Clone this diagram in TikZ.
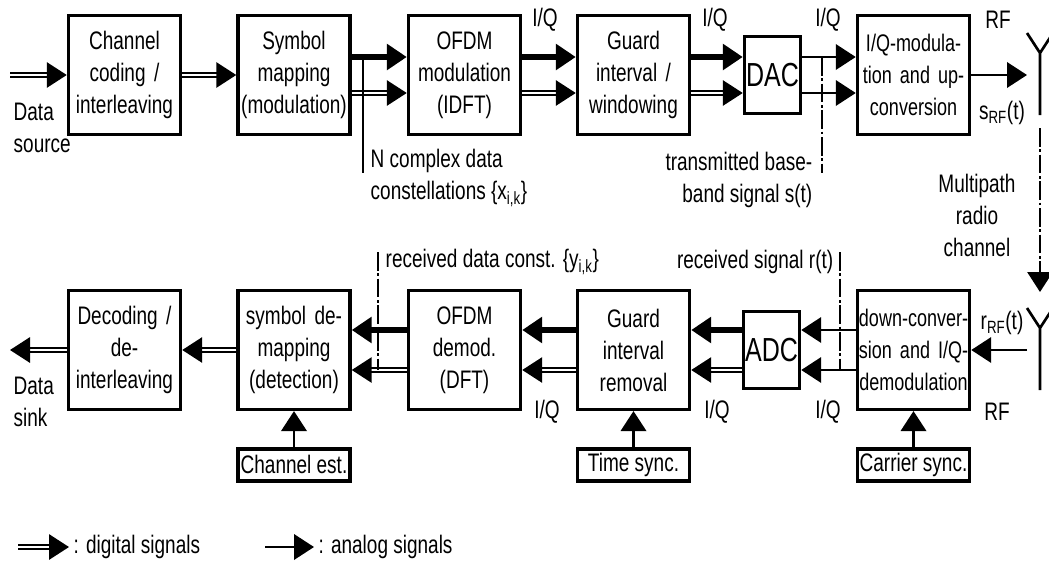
\documentclass[tikz,border=0pt]{standalone}
\usepackage{fontspec}
\setmainfont{Liberation Sans}[FakeStretch=0.75]
\usetikzlibrary{arrows.meta,positioning,calc}

\begin{document}
\begin{tikzpicture}[
  x=0.75pt, y=-0.75pt,
  font=\fontsize{19}{24}\selectfont,
  block/.style={rectangle, draw, line width=2.6pt, minimum width=84pt, minimum height=89pt, text width=84pt, inner sep=0pt, align=center},
  conv/.style={rectangle, draw, line width=2.6pt, minimum width=42pt, minimum height=58pt, inner sep=0pt, font=\fontsize{25}{28}\selectfont},
  syncbox/.style={rectangle, draw, line width=2.6pt, minimum width=84pt, minimum height=24pt, inner sep=0pt},
  dig/.style={double, double distance=1.7pt, line width=1.5pt, -{Triangle[length=15pt,width=19pt]}},
  fat/.style={line width=5pt, -{Triangle[length=15pt,width=19pt]}},
  ana/.style={line width=2pt, -{Triangle[length=15pt,width=19pt]}},
  tapline/.style={line width=1.4pt},
  chanline/.style={line width=1.4pt, dash pattern=on 14pt off 2pt on 2pt off 2pt},
  antenna/.style={line width=2pt}
]
  \useasboundingbox (0,0) rectangle (1049,565);

  % transmitter
  \node[block] (chcod) at (124.5,75) {Channel\\coding /\\interleaving};
  \node[block] (symmap) at (294,75) {Symbol\\mapping\\(modulation)};
  \node[block] (ofdmmod) at (464.5,75) {OFDM\\modulation\\(IDFT)};
  \node[block] (guardins) at (633.5,75) {Guard\\interval /\\windowing};
  \node[conv] (dac) at (772.5,75) {DAC};
  \node[block, font=\fontsize{18}{24}\selectfont] (iqmod) at (913.5,75) {\makebox[84pt]{I/Q-modula-}\\\makebox[84pt]{tion and up-}\\\makebox[84pt]{conversion}};

  % receiver
  \node[block] (decod) at (124.5,350) {Decoding /\\de-\\interleaving};
  \node[block] (symdem) at (294,350) {symbol de-\\mapping\\(detection)};
  \node[block] (ofdmdem) at (464.5,350) {OFDM\\demod.\\(DFT)};
  \node[block] (guardrem) at (633.5,350) {Guard\\interval\\removal};
  \node[conv] (adc) at (771.5,350) {ADC};
  \node[block, font=\fontsize{18}{24}\selectfont] (downconv) at (913.5,350) {\makebox[84pt]{down-conver-}\\\makebox[84pt]{sion and I/Q-}\\\makebox[84pt]{demodulation}};

  \node[syncbox, below=27pt of symdem] (chest) {Channel est.};
  \node[syncbox, below=27pt of guardrem] (tsync) {Time sync.};
  \node[syncbox, below=27pt of downconv] (csync) {Carrier sync.};

  % labels
  \node[anchor=west, align=left] (srclbl) at (9,128) {Data\\source};
  \node[anchor=west, align=left] (sinklbl) at (9,402) {Data\\sink};
  \node (iqa) at (545,20) {I/Q};
  \node (iqb) at (715,20) {I/Q};
  \node (iqc) at (828,20) {I/Q};
  \node (rftx) at (998,20) {RF};
  \node (iqd) at (547,412) {I/Q};
  \node (iqe) at (717,412) {I/Q};
  \node (iqf) at (828,412) {I/Q};
  \node (rfrx) at (997,412) {RF};
  \node (srf) at (1002,113) {s\textsubscript{RF}(t)};
  \node (rrf) at (1002,323) {r\textsubscript{RF}(t)};
  \node[anchor=west, align=left] (nconst) at (366,178) {N complex data\\constellations \{x\textsubscript{i,k}\}};
  \node[anchor=east, align=right] (txbase) at (817,180) {transmitted base-\\band signal s(t)};
  \node[align=center] (mpath) at (977,215) {Multipath\\radio\\channel};
  \node[anchor=west] (rxconst) at (381,262) {received data const. \{y\textsubscript{i,k}\}};
  \node[anchor=east] (rxsig) at (838,262) {received signal r(t)};

  % transmitter signals
  \coordinate (src) at (10,75);
  \draw[dig] (src) -- (chcod);
  \draw[dig] (chcod) -- (symmap);
  \draw[fat] ([yshift=13.5pt]symmap.east) -- ([yshift=13.5pt]ofdmmod.west);
  \draw[dig] ([yshift=-13.5pt]symmap.east) -- ([yshift=-13.5pt]ofdmmod.west);
  \draw[fat] ([yshift=13.5pt]ofdmmod.east) -- ([yshift=13.5pt]guardins.west);
  \draw[dig] ([yshift=-13.5pt]ofdmmod.east) -- ([yshift=-13.5pt]guardins.west);
  \draw[fat] ([yshift=13.5pt]guardins.east) -- ([yshift=13.5pt]dac.west);
  \draw[dig] ([yshift=-13.5pt]guardins.east) -- ([yshift=-13.5pt]dac.west);
  \draw[ana] ([yshift=13.5pt]dac.east) -- ([yshift=13.5pt]iqmod.west);
  \draw[ana] ([yshift=-13.5pt]dac.east) -- ([yshift=-13.5pt]iqmod.west);
  \coordinate (txin) at (1027,75);
  \draw[ana] (iqmod) -- (txin);

  % antennas and channel
  \draw[antenna] (1027,33) -- (1040,53) -- (1053,33) (1040,53) -- (1040,115);
  \draw[antenna] (1027,308) -- (1040,328) -- (1053,308) (1040,328) -- (1040,390);
  \coordinate (chtop) at (1040,128);
  \coordinate (chbot) at (1040,292);
  \draw[chanline, -{Triangle[length=15pt,width=19pt]}] (chtop) -- (chbot);

  % receiver signals
  \coordinate (rxout) at (1027,350);
  \draw[ana] (rxout) -- (downconv);
  \draw[ana] ([yshift=15pt]downconv.west) -- ([yshift=15pt]adc.east);
  \draw[ana] ([yshift=-15pt]downconv.west) -- ([yshift=-15pt]adc.east);
  \draw[fat] ([yshift=15pt]adc.west) -- ([yshift=15pt]guardrem.east);
  \draw[dig] ([yshift=-15pt]adc.west) -- ([yshift=-15pt]guardrem.east);
  \draw[fat] ([yshift=15pt]guardrem.west) -- ([yshift=15pt]ofdmdem.east);
  \draw[dig] ([yshift=-15pt]guardrem.west) -- ([yshift=-15pt]ofdmdem.east);
  \draw[fat] ([yshift=15pt]ofdmdem.west) -- ([yshift=15pt]symdem.east);
  \draw[dig] ([yshift=-15pt]ofdmdem.west) -- ([yshift=-15pt]symdem.east);
  \draw[dig] (symdem) -- (decod);
  \coordinate (sink) at (10,350);
  \draw[dig] (decod) -- (sink);

  \draw[ana] (chest) -- (symdem);
  \draw[ana] (tsync) -- (guardrem);
  \draw[ana] (csync) -- (downconv);

  % signal taps
  \coordinate (ncA) at (363,57);
  \coordinate (ncB) at (363,173);
  \draw[tapline] (ncA) -- (ncB);
  \coordinate (tbA) at (822,57);
  \coordinate (tbB) at (822,173);
  \draw[chanline] (tbA) -- (tbB);
  \coordinate (rcA) at (378,252);
  \coordinate (rcB) at (378,370);
  \draw[chanline] (rcA) -- (rcB);
  \coordinate (rsA) at (840,252);
  \coordinate (rsB) at (840,370);
  \draw[chanline] (rsA) -- (rsB);

  % legend
  \node[anchor=west] (legdig) at (69,547) {: digital signals};
  \coordinate (legdigs) at (18,547);
  \draw[dig] (legdigs) -- (legdig.west);
  \node[anchor=west] (legana) at (314,547) {: analog signals};
  \coordinate (leganas) at (265,547);
  \draw[ana] (leganas) -- (legana.west);
\end{tikzpicture}
\end{document}
